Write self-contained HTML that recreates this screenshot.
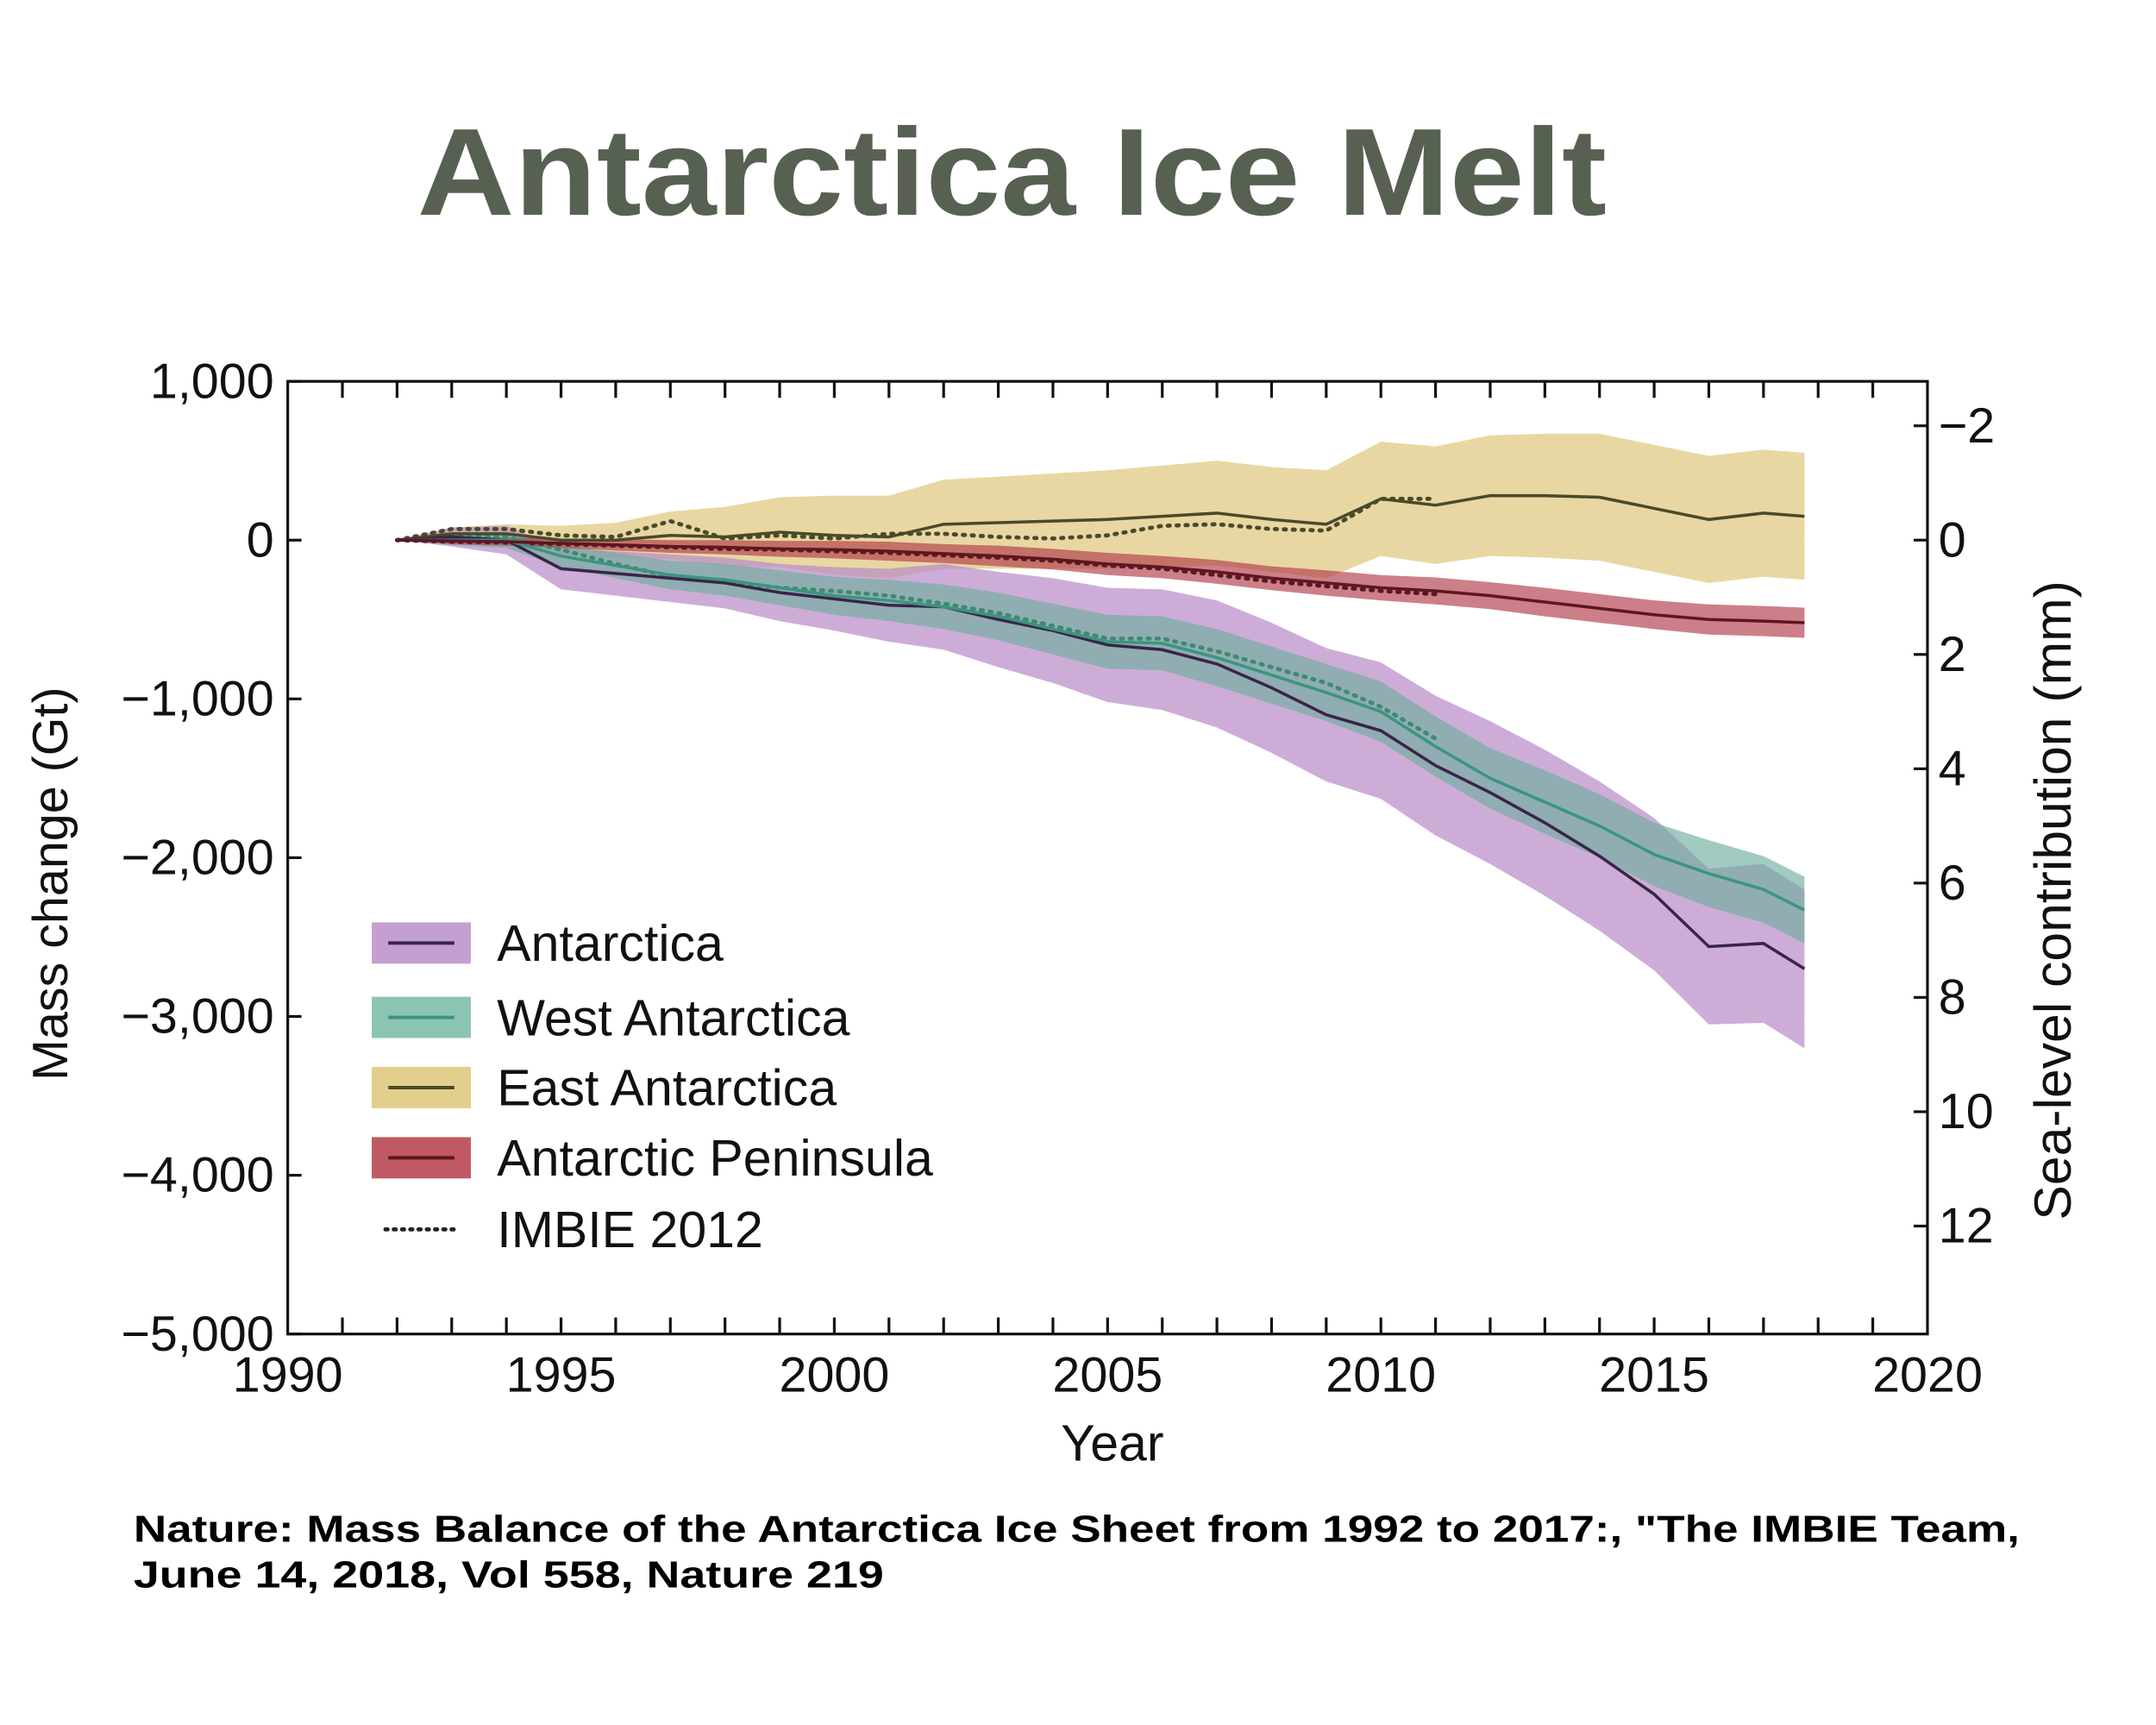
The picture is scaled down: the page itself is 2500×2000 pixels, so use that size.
<!DOCTYPE html>
<html><head><meta charset="utf-8">
<style>
html,body{margin:0;padding:0;background:#fff;}
svg{display:block;font-family:"Liberation Sans",Arial,sans-serif;}
</style></head>
<body>
<svg id="chart" width="2500" height="2000" viewBox="0 0 1566 1253" preserveAspectRatio="none" xmlns="http://www.w3.org/2000/svg">
<rect width="1566" height="1253" fill="#fff"/>
<text x="735" y="156" text-anchor="middle" font-size="90" font-weight="bold" fill="#576152" textLength="864" lengthAdjust="spacingAndGlyphs">Antarctica Ice Melt</text>
<g id="bands"></g><g id="lines"></g>
<rect x="209" y="277" width="1191" height="692" fill="none" stroke="#111" stroke-width="2"/>
<g id="axes" font-size="36" fill="#111"></g>
<text transform="translate(49,642) rotate(-90)" text-anchor="middle" font-size="36" fill="#111">Mass change (Gt)</text>
<text transform="translate(1504,654) rotate(-90)" text-anchor="middle" font-size="38" fill="#111">Sea-level contribution (mm)</text>
<text x="808" y="1061" text-anchor="middle" font-size="37" fill="#111">Year</text>
<g id="legend" font-size="37" fill="#111"></g>
<text x="97" y="1120" font-size="27" font-weight="bold" fill="#000" textLength="1370" lengthAdjust="spacingAndGlyphs">Nature: Mass Balance of the Antarctica Ice Sheet from 1992 to 2017:, "The IMBIE Team,</text>
<text x="97" y="1153" font-size="27" font-weight="bold" fill="#000" textLength="545" lengthAdjust="spacingAndGlyphs">June 14, 2018, Vol 558, Nature 219</text>
</svg>
<script>
const years=[1992,1993,1994,1995,1996,1997,1998,1999,2000,2001,2002,2003,2004,2005,2006,2007,2008,2009,2010,2011,2012,2013,2014,2015,2016,2017,2017.75];
const antarctica=[0,20,0,-180,-210,-240,-270,-330,-370,-410,-420,-500,-570,-660,-690,-780,-930,-1100,-1200,-1420,-1590,-1780,-1990,-2230,-2560,-2540,-2700];
const antarcticaErr=[0,60,90,130,140,150,160,180,200,230,270,300,330,360,380,400,410,420,430,440,450,460,470,480,490,500,500];
const westAnt=[0,0,0,-100,-160,-220,-250,-300,-350,-380,-420,-480,-560,-640,-650,-740,-850,-960,-1080,-1300,-1500,-1650,-1800,-1980,-2100,-2200,-2330];
const westErr=[0,30,50,70,80,90,100,110,120,130,140,150,160,170,170,180,180,180,190,190,190,200,200,200,210,210,210];
const eastAnt=[0,40,40,0,0,30,20,50,30,20,100,110,120,130,150,170,130,100,260,220,280,280,270,200,130,170,150];
const eastErr=[0,40,60,90,110,150,190,220,250,260,280,290,300,310,320,330,330,340,360,370,380,390,400,400,400,400,400];
const peninsula=[0,-5,-10,-20,-30,-40,-45,-55,-60,-70,-85,-100,-120,-150,-170,-200,-240,-270,-300,-320,-350,-390,-430,-470,-500,-510,-520];
const peninsulaErr=[0,20,25,30,35,40,45,50,55,60,60,65,65,70,70,75,75,80,80,85,85,90,90,90,95,95,95];
const imbieYears=[1992,1993,1994,1995,1996,1997,1998,1999,2000,2001,2002,2003,2004,2005,2006,2007,2008,2009,2010,2011];
const imbieEast=[0,70,70,30,20,120,10,30,10,40,40,20,10,30,90,100,70,60,260,260];
const imbieWest=[0,20,20,-60,-150,-230,-260,-300,-320,-350,-400,-460,-540,-620,-620,-700,-800,-900,-1050,-1250];
const imbiePen=[0,-10,-15,-25,-35,-45,-55,-60,-70,-80,-95,-110,-130,-160,-180,-220,-260,-290,-320,-340];
const xTicks=[1990,1995,2000,2005,2010,2015,2020];
const yTicks=[1000,0,-1000,-2000,-3000,-4000,-5000];
const mmTicks=[-2,0,2,4,6,8,10,12];

const X0=209,X1=1400,Y0=277,Y1=969;
const sx=v=>X0+(v-1990)/30*(X1-X0);
const sy=v=>Y0+(1000-v)/6000*(Y1-Y0);
const smm=v=>sy(-v*360);
const NS="http://www.w3.org/2000/svg";
function mk(tag,attrs,parent){const e=document.createElementNS(NS,tag);for(const k in attrs)e.setAttribute(k,attrs[k]);parent.appendChild(e);return e;}
const fmt=v=>(v<0?"\u2212":"")+Math.abs(v).toLocaleString("en-US");

const bandsG=document.getElementById('bands'),linesG=document.getElementById('lines');
function band(vals,err,fill,name,op){
  let d=years.map((y,i)=>(i?'L':'M')+sx(y)+','+sy(vals[i]+err[i])).join('');
  for(let i=years.length-1;i>=0;i--)d+='L'+sx(years[i])+','+sy(vals[i]-err[i]);
  const p=mk('path',{d:d+'Z',fill:fill,'fill-opacity':op},bandsG);
  
  
}
function line(xs,vals,stroke,name,dash){
  const d=xs.map((y,i)=>(i?'L':'M')+sx(y)+','+sy(vals[i])).join('');
  const a={d:d,fill:'none',stroke:stroke,'stroke-width':dash?3:2.2};
  if(dash){a['stroke-dasharray']='1.5 5';a['stroke-linecap']='round';}
  const p=mk('path',a,linesG);
  
  
}
band(eastAnt,eastErr,'#dcc270','east-antarctica-band',0.65);
band(antarctica,antarcticaErr,'#b88ac8','antarctica-band',0.7);
band(westAnt,westErr,'#6fae9e','west-antarctica-band',0.65);
band(peninsula,peninsulaErr,'#b03a48','peninsula-band',0.65);
line(imbieYears,imbieEast,'#4a4a2a','imbie-east-dotted',1);
line(imbieYears,imbieWest,'#3f8a70','imbie-west-dotted',1);
line(imbieYears,imbiePen,'#5a1820','imbie-peninsula-dotted',1);
line(years,eastAnt,'#4a4a2a','east-antarctica-line');
line(years,antarctica,'#3a2448','antarctica-line');
line(years,westAnt,'#3a9580','west-antarctica-line');
line(years,peninsula,'#5e1622','peninsula-line');

const ax=document.getElementById('axes');
for(let y=1991;y<=2019;y++){
  let t=mk('line',{x1:sx(y),x2:sx(y),y1:Y0,y2:Y0+12,stroke:'#111','stroke-width':2},ax);
  
  t=mk('line',{x1:sx(y),x2:sx(y),y1:Y1,y2:Y1-12,stroke:'#111','stroke-width':2},ax);
  
}
xTicks.forEach(v=>{const t=mk('text',{x:sx(v),y:Y1+42,'text-anchor':'middle'},ax);t.textContent=v;
  });
yTicks.forEach(v=>{const t=mk('text',{x:X0-10,y:sy(v)+12,'text-anchor':'end'},ax);t.textContent=fmt(v);
  
  const k=mk('line',{x1:X0,x2:X0+10,y1:sy(v),y2:sy(v),stroke:'#111','stroke-width':2},ax);
  });
mmTicks.forEach(v=>{const t=mk('text',{x:X1+8,y:smm(v)+12},ax);t.textContent=(v<0?"\u2212":"")+Math.abs(v);
  
  const k=mk('line',{x1:X1,x2:X1-10,y1:smm(v),y2:smm(v),stroke:'#111','stroke-width':2},ax);
  });

const lg=document.getElementById('legend');
const legendNames=['Antarctica','West Antarctica','East Antarctica','Antarctic Peninsula'];
const legendFill=['#c4a0d2','#8cc4b3','#e3cf8c','#bf5a64'];
const legendLine=['#3a2448','#3a9580','#4a4a2a','#5e1622'];
const legendY=[685,739,790,841];
legendNames.forEach((n,i)=>{
  const r=mk('rect',{x:270,y:legendY[i]-15,width:72,height:30,fill:legendFill[i]},lg);
  
  const l=mk('line',{x1:282,x2:330,y1:legendY[i],y2:legendY[i],stroke:legendLine[i],'stroke-width':2.5},lg);
  
  const t=mk('text',{x:361,y:legendY[i]+13},lg);t.textContent=n;
  
});
const dl=mk('line',{x1:280,x2:334,y1:893,y2:893,stroke:'#222','stroke-width':3,'stroke-dasharray':'1.5 4.5','stroke-linecap':'round'},lg);

const it=mk('text',{x:361,y:906},lg);it.textContent='IMBIE 2012';

</script>
</body></html>
